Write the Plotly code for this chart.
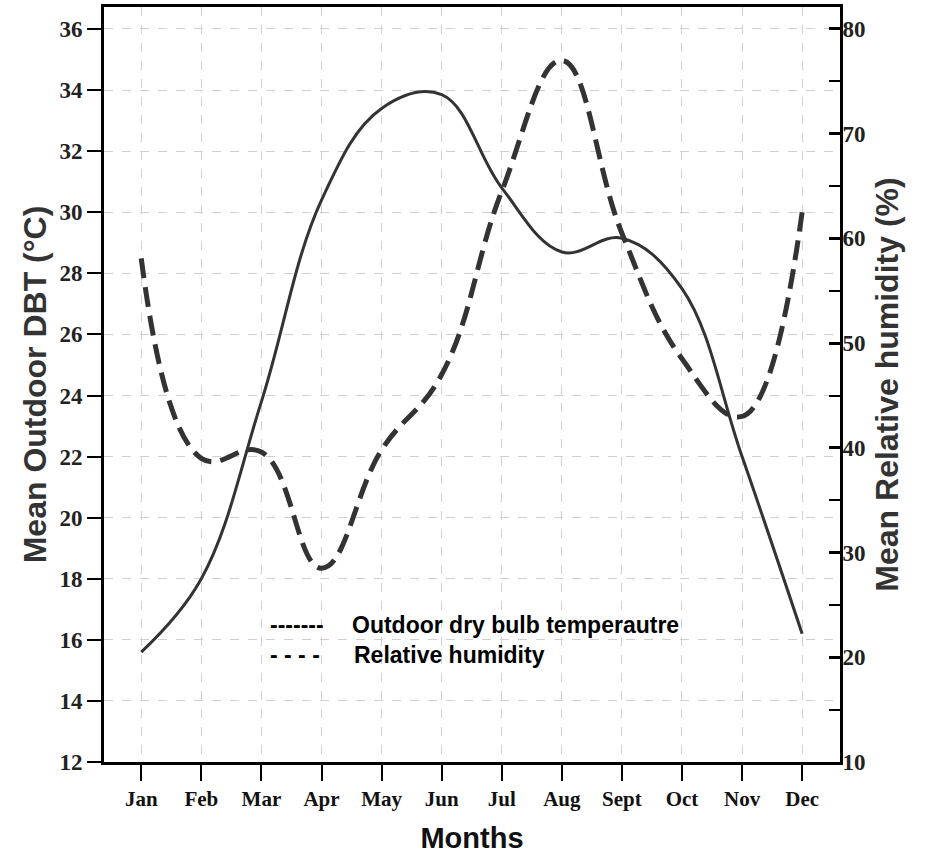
import plotly.graph_objects as go

months = ["Jan", "Feb", "Mar", "Apr", "May", "Jun", "Jul", "Aug", "Sept", "Oct", "Nov", "Dec"]
dbt = [15.6, 18.0, 23.8, 30.4, 33.4, 33.85, 30.8, 28.7, 29.15, 27.5, 22.0, 16.2]
rh = [58.1, 39.0, 39.6, 28.5, 39.8, 47.0, 64.5, 77.0, 60.5, 48.5, 43.0, 62.5]
left_ticks = [12, 14, 16, 18, 20, 22, 24, 26, 28, 30, 32, 34, 36]
right_ticks = [10, 20, 30, 40, 50, 60, 70, 80]

LINE = "#333333"
SERIF = "Liberation Serif"
SANS = "Liberation Sans"

fig = go.Figure()
fig.add_trace(go.Scatter(x=months, y=dbt, mode="lines", name="Outdoor dry bulb temperautre",
                         line=dict(color=LINE, width=3, shape="spline", smoothing=1.1),
                         yaxis="y", showlegend=False))
fig.add_trace(go.Scatter(x=months, y=rh, mode="lines", name="Relative humidity",
                         line=dict(color=LINE, width=5, shape="spline", smoothing=1.2, dash="20px,9px"),
                         yaxis="y2", showlegend=False))

fig.update_layout(
    width=926, height=859,
    margin=dict(l=104, r=86, t=7, b=97),
    paper_bgcolor="white", plot_bgcolor="white",
    xaxis=dict(
        range=[-0.62, 11.63], tickmode="array", tickvals=months, ticktext=months,
        showline=True, linecolor="black", linewidth=3, mirror=True, automargin=False,
        ticks="outside", ticklen=16, tickwidth=2, tickcolor="black",
        tickfont=dict(family=SERIF, size=21, color="#111111", weight="bold"),
        showgrid=True, gridcolor="#d0d0d0", griddash="dash", gridwidth=1,
        zeroline=False,
        title=dict(text="Months", font=dict(family=SANS, size=29, color="#111111", weight="bold"), standoff=18),
    ),
    yaxis=dict(
        range=[12, 36.72], tickvals=left_ticks, automargin=False,
        showline=True, linecolor="black", linewidth=3,
        ticks="outside", ticklen=14, tickwidth=2, tickcolor="black",
        tickfont=dict(family=SERIF, size=23, color="#222222", weight="bold"),
        showgrid=True, gridcolor="#d0d0d0", griddash="dash", gridwidth=1,
        zeroline=False,
        title=dict(text="Mean Outdoor DBT (°C)", font=dict(family=SANS, size=32, color="#333333", weight="bold"), standoff=4),
    ),
    yaxis2=dict(
        range=[10, 82.1], tickvals=right_ticks, overlaying="y", side="right", automargin=False,
        showline=True, linecolor="black", linewidth=3,
        ticks="inside", ticklen=11, tickwidth=3, tickcolor="black",
        ticklabelstandoff=-5,
        minor=dict(tickvals=[15, 25, 35, 45, 55, 65, 75], ticks="inside", ticklen=11, tickwidth=2, tickcolor="black"),
        tickfont=dict(family=SERIF, size=23, color="#222222", weight="bold"),
        showgrid=False, zeroline=False,
        title=dict(text="Mean Relative humidity (%)", font=dict(family=SANS, size=32, color="#333333", weight="bold"), standoff=12),
    ),
)

legend_font = dict(family=SANS, size=23, color="black", weight="bold")
fig.add_annotation(x=0.2228, y=0.1815, xref="paper", yref="paper", text="-------", showarrow=False,
                   xanchor="left", yanchor="middle", font=legend_font)
fig.add_annotation(x=0.3342, y=0.1815, xref="paper", yref="paper", text="Outdoor dry bulb temperautre", showarrow=False,
                   xanchor="left", yanchor="middle", font=legend_font)
fig.add_annotation(x=0.2228, y=0.1417, xref="paper", yref="paper", text="- - - -", showarrow=False,
                   xanchor="left", yanchor="middle", font=legend_font)
fig.add_annotation(x=0.3369, y=0.1417, xref="paper", yref="paper", text="Relative humidity", showarrow=False,
                   xanchor="left", yanchor="middle", font=legend_font)

fig.write_html("out.html", config={"displayModeBar": False},
               post_script="document.body.style.margin='0';document.body.style.padding='0';")
